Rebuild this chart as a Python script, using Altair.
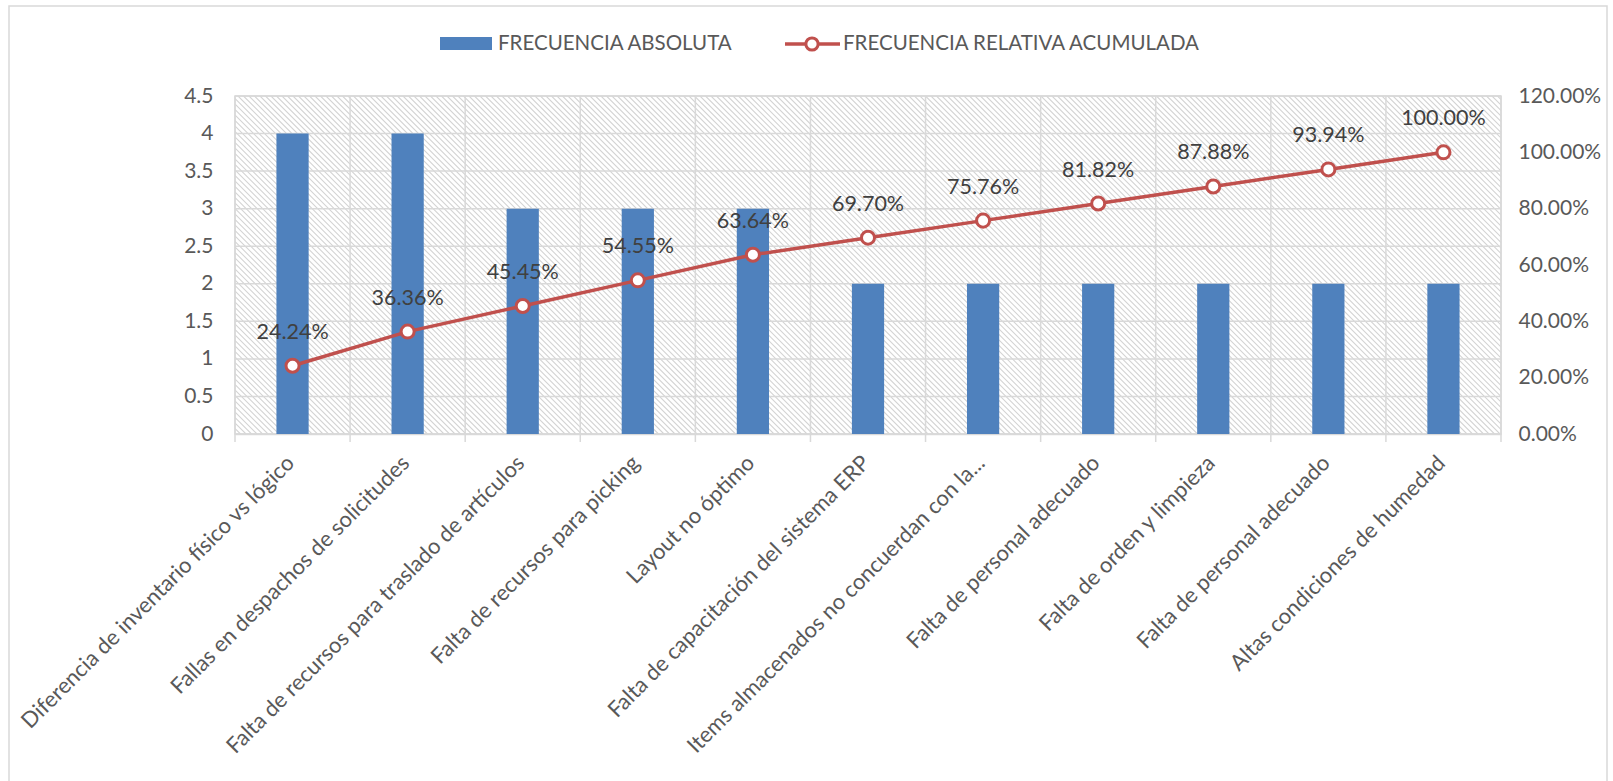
import json
import altair as alt
import numpy as np
import pandas as pd

# ---------------- data ----------------
CATEGORIES = [
    "Diferencia de inventario físico vs lógico",
    "Fallas en despachos de solicitudes",
    "Falta de recursos para traslado de artículos",
    "Falta de recursos para picking",
    "Layout no óptimo",
    "Falta de capacitación del sistema ERP",
    "Items almacenados no concuerdan con la...",
    "Falta de personal adecuado",
    "Falta de orden y limpieza",
    "Falta de personal adecuado",
    "Altas condiciones de humedad",
]
FRECUENCIA_ABSOLUTA = [4, 4, 3, 3, 3, 2, 2, 2, 2, 2, 2]
FRECUENCIA_RELATIVA_ACUMULADA = [0.2424, 0.3636, 0.4545, 0.5455, 0.6364, 0.6970,
                                 0.7576, 0.8182, 0.8788, 0.9394, 1.0]
LEFT_TICKS = [0, 0.5, 1, 1.5, 2, 2.5, 3, 3.5, 4, 4.5]
RIGHT_TICKS = [0, 0.2, 0.4, 0.6, 0.8, 1.0, 1.2]
BAR_NAME = "FRECUENCIA ABSOLUTA"
LINE_NAME = "FRECUENCIA RELATIVA ACUMULADA"

# ---------------- style ----------------
W, H = 1266, 338
FONT = "Lato"
GRID = "#d9d9d9"
HATCH = "#d3d3d3"
BLUE = "#4f81bd"
RED = "#c0504d"
TXT = "#595959"
LBL = "#404040"

df = pd.DataFrame({
    "idx": list(range(len(CATEGORIES))),
    "cat": CATEGORIES,
    "abs": FRECUENCIA_ABSOLUTA,
    "acum": FRECUENCIA_RELATIVA_ACUMULADA,
})

label_expr = json.dumps(CATEGORIES, ensure_ascii=False) + "[datum.value]"
x_scale = alt.Scale(paddingInner=0, paddingOuter=0)
y_left = alt.Scale(domain=[0, 4.5], nice=False, zero=True)
y_right = alt.Scale(domain=[0, 1.2], nice=False, zero=True)

X_AXIS = alt.Axis(
    title=None, labelExpr=label_expr, labelAngle=-45, ticks=False, grid=False,
    domain=True, domainColor=GRID, domainWidth=1.5,
    labelFont=FONT, labelFontSize=22, labelColor=TXT, labelPadding=18, labelOffset=-9,
    labelLimit=1000,
)


def xenc(**kw):
    return alt.X("idx:O", scale=x_scale, axis=X_AXIS, **kw)


# background hatch texture (decoration only)
offs = np.arange(-H, W + 6, 5.5)
hatch_df = pd.DataFrame({"hx": offs, "hx2": offs + H, "hy": 0.0, "hy2": float(H)})
hatch = alt.Chart(hatch_df).mark_rule(color=HATCH, strokeWidth=1.1, clip=True).encode(
    x=alt.X("hx:Q", scale=None, axis=None), x2="hx2:Q",
    y=alt.Y("hy:Q", scale=None, axis=None), y2="hy2:Q",
)

# horizontal gridlines
hgrid = alt.Chart(pd.DataFrame({"v": LEFT_TICKS})).mark_rule(color=GRID, strokeWidth=1.5).encode(
    y=alt.Y("v:Q", scale=y_left, axis=None)
)

# vertical gridlines + ticks at category boundaries
vgrid = alt.Chart(df).mark_rule(color=GRID, strokeWidth=1.5).encode(
    x=xenc(bandPosition=0),
    y=alt.value(0), y2=alt.value(H + 8),
)
vgrid_end = alt.Chart(df).transform_filter(
    alt.datum.idx == len(CATEGORIES) - 1
).mark_rule(color=GRID, strokeWidth=1.5).encode(
    x=xenc(bandPosition=1),
    y=alt.value(0), y2=alt.value(H + 8),
)

bars = alt.Chart(df).mark_bar(color=BLUE, width=alt.RelativeBandSize(0.28)).encode(
    x=xenc(),
    y=alt.Y("abs:Q", scale=y_left, axis=alt.Axis(
        orient="left", title=None, values=LEFT_TICKS, format="~g", grid=False, ticks=False,
        domain=False, labelFont=FONT, labelFontSize=21, labelColor=TXT, labelPadding=22,
    )),
)

line = alt.Chart(df).mark_line(color=RED, strokeWidth=3.5).encode(
    x=xenc(),
    y=alt.Y("acum:Q", scale=y_right, axis=alt.Axis(
        orient="right", title=None, values=RIGHT_TICKS, format=".2%", grid=False, ticks=False,
        domain=False, labelFont=FONT, labelFontSize=21, labelColor=TXT, labelPadding=17,
    )),
)
points = alt.Chart(df).mark_point(shape="circle", size=170, filled=True, fill="white",
                                  stroke=RED, strokeWidth=3, opacity=1).encode(
    x=xenc(), y=alt.Y("acum:Q", scale=y_right, axis=None)
)
labels = alt.Chart(df).mark_text(dy=-27, baseline="alphabetic", font=FONT, fontSize=21.5,
                                 color=LBL).encode(
    x=xenc(), y=alt.Y("acum:Q", scale=y_right, axis=None),
    text=alt.Text("acum:Q", format=".2%"),
)

# outer chart frame
frame = alt.Chart(pd.DataFrame({"f": [0]})).mark_rect(
    fillOpacity=0, stroke=GRID, strokeWidth=1.5
).encode(x=alt.value(-226), x2=alt.value(1372), y=alt.value(-90), y2=alt.value(700))

# legend
leg_bar = alt.Chart(pd.DataFrame({"name": [BAR_NAME]})).mark_rect(color=BLUE).encode(
    x=alt.value(205), x2=alt.value(257), y=alt.value(-59), y2=alt.value(-46)
)
leg_bar_txt = alt.Chart(pd.DataFrame({"name": [BAR_NAME]})).mark_text(
    align="left", baseline="middle", font=FONT, fontSize=20.5, color=TXT
).encode(x=alt.value(263), y=alt.value(-52), text="name:N")
leg_line = alt.Chart(pd.DataFrame({"name": [LINE_NAME]})).mark_rule(
    color=RED, strokeWidth=3.5
).encode(x=alt.value(550), x2=alt.value(605), y=alt.value(-52))
leg_pt = alt.Chart(pd.DataFrame({"name": [LINE_NAME]})).mark_point(
    shape="circle", size=150, filled=True, fill="white", stroke=RED, strokeWidth=3, opacity=1
).encode(x=alt.value(577), y=alt.value(-52))
leg_line_txt = alt.Chart(pd.DataFrame({"name": [LINE_NAME]})).mark_text(
    align="left", baseline="middle", font=FONT, fontSize=20.5, color=TXT
).encode(x=alt.value(608), y=alt.value(-52), text="name:N")

chart = alt.layer(
    hatch, hgrid, vgrid, vgrid_end, bars, line, points, labels,
    frame, leg_bar, leg_bar_txt, leg_line, leg_pt, leg_line_txt,
).resolve_scale(y="independent").properties(
    width=W, height=H,
    autosize=alt.AutoSizeParams(type="none"),
    padding={"left": 235, "top": 96, "right": 112, "bottom": 347},
    background="white",
).configure_view(stroke=GRID, strokeWidth=1.5)

chart.save("out.html", embed_options={"renderer": "svg", "actions": False})
